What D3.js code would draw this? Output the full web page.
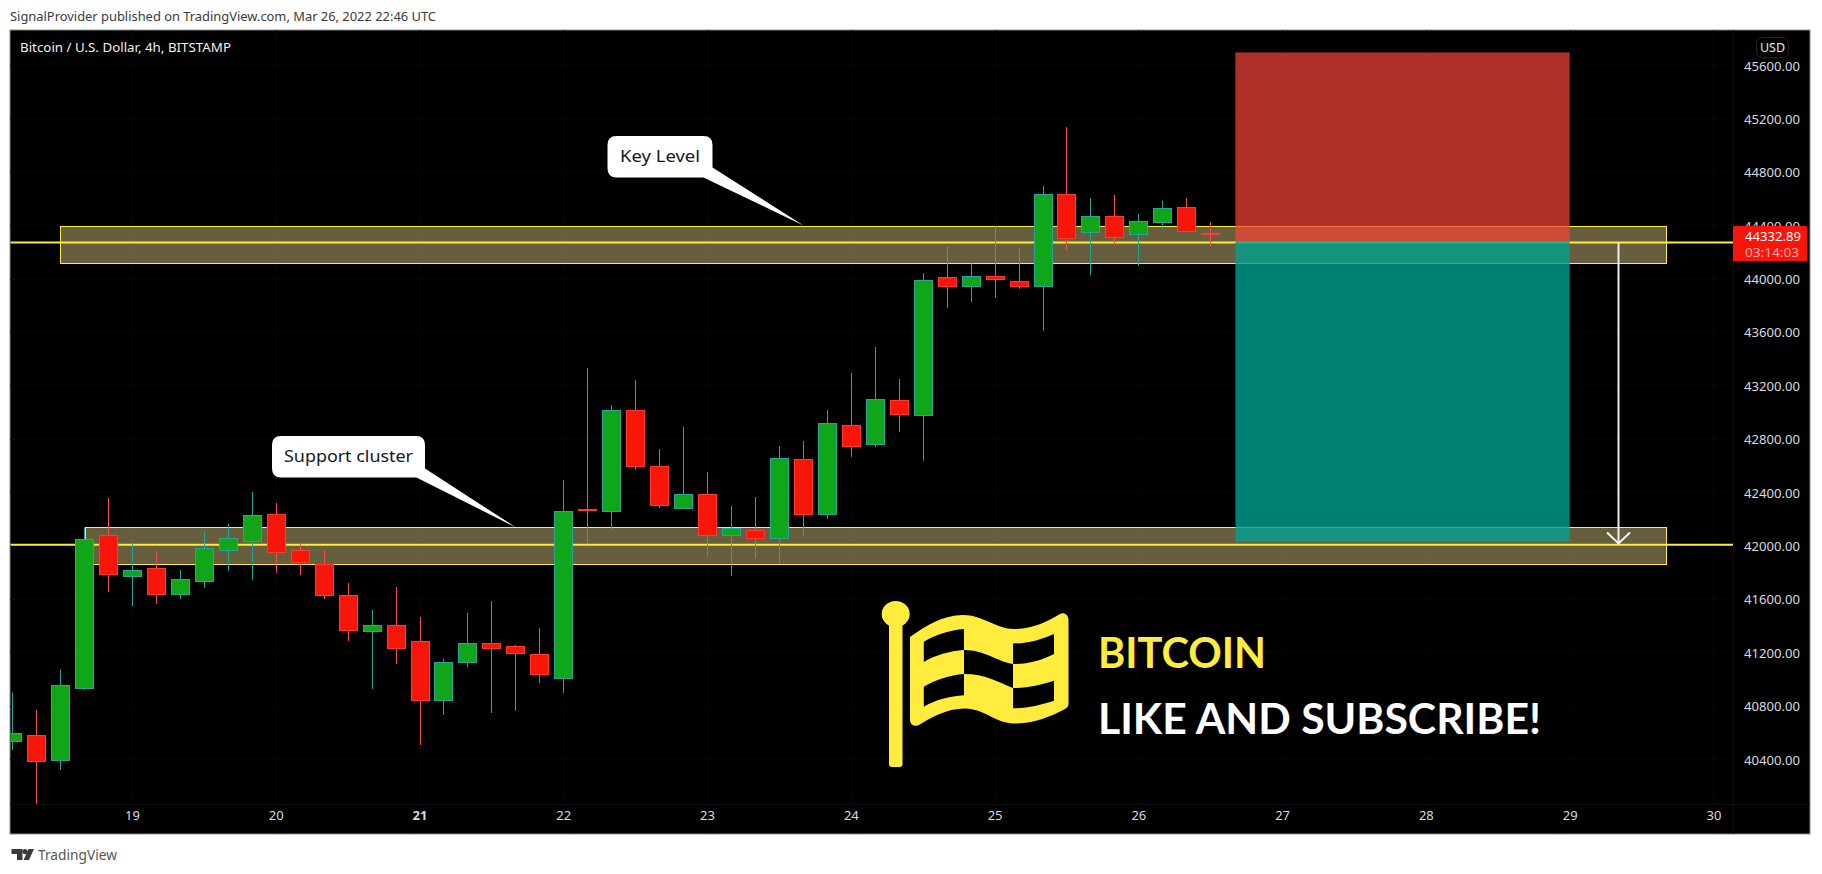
<!DOCTYPE html>
<html>
<head>
<meta charset="utf-8">
<script src="https://cdn.jsdelivr.net/npm/d3@7"></script>
<style>
html, body { margin: 0; padding: 0; background: #fff; overflow: hidden; }
svg { display: block; }
</style>
</head>
<body>
<script>
// 4h candles, first bar is Mar 18 04:00
var firstBarDay = 18 + 1 / 6;
var opens  = [40530,40577,40390,40929,42076,41769,41829,41634,41731,41963,42031,42233,41963,41863,41626,41356,41401,41282,40839,41124,41267,41244,41184,41004,42270,42253,43012,42593,42275,42383,42076,42113,42051,42645,42231,42900,42755,43087,42972,44009,43939,44016,43979,43939,44631,44344,44466,44328,44418,44533,44340];
var highs  = [40899,40767,41072,42136,42356,42026,41958,41816,42108,42161,42400,42318,42016,41966,41719,41516,41689,41464,41149,41494,41584,41254,41381,42490,43330,43052,43240,42723,42888,42550,42296,42363,42745,42783,43015,43292,43487,43247,44041,44236,44114,44394,44229,44693,45135,44603,44626,44483,44581,44603,44423];
var lows   = [40467,40063,40317,40917,41651,41546,41561,41599,41681,41809,41741,41794,41779,41599,41284,40924,41112,40505,40730,41089,40745,40760,40969,40894,42010,42115,42565,42281,42275,41921,41771,41898,41868,42071,42198,42663,42738,42850,42635,43779,43824,43854,43922,43607,44214,44026,44251,44094,44371,44351,44244];
var closes = [40592,40380,40952,42046,41781,41814,41634,41746,41978,42053,42226,41948,41871,41634,41364,41401,41229,40839,41124,41267,41229,41192,41032,42256,42263,43012,42590,42298,42383,42076,42128,42051,42653,42231,42915,42740,43095,42980,43986,43939,44016,43991,43939,44631,44299,44466,44309,44428,44526,44351,44332.89];
var dayTicks = [19,20,21,22,23,24,25,26,27,28,29,30];
var boldDays = [21];
var priceTicks = [45600,45200,44800,44400,44000,43600,43200,42800,42400,42000,41600,41200,40800,40400];

// drawings, price / day coordinates
var zoneTops = [44390, 42136];
var zoneBottoms = [44114, 41859];
var zoneStarts = [18.5, 18.67];
var zoneEnds = [29.67, 29.67];
var levelPrices = [44270, 42005];
var positionStart = 26.675, positionEnd = 29;
var positionStop = 45694, positionEntry = 44279, positionTarget = 42028;
var arrowDay = 29.34, arrowFrom = 44270, arrowTo = 42015;
var lastPrice = 44332.89, lastCountdown = "03:14:03";

var W = 1822, H = 874;
var pane = {left: 10, top: 30, right: 1733, bottom: 804, outerRight: 1810, outerBottom: 834};

var x = d3.scaleLinear().domain([19, 30]).range([132, 1713.4]);
var y = d3.scaleLinear().domain([45600, 40400]).range([65, 759]);

var svg = d3.select("body").append("svg").attr("width", W).attr("height", H);
var fontUi = "'Noto Sans', 'Open Sans', sans-serif";

svg.append("text").attr("x", 10).attr("y", 21)
  .attr("font-family", fontUi).attr("font-size", 12.5).attr("fill", "#3a3a3a")
  .attr("textLength", 426).attr("lengthAdjust", "spacingAndGlyphs")
  .text("SignalProvider published on TradingView.com, Mar 26, 2022 22:46 UTC");

svg.append("rect").attr("x", pane.left).attr("y", pane.top)
  .attr("width", pane.outerRight - pane.left).attr("height", pane.outerBottom - pane.top)
  .attr("fill", "#000").attr("stroke", "#8a8b90").attr("stroke-width", 1);

svg.append("clipPath").attr("id", "paneClip").append("rect")
  .attr("x", pane.left + 0.5).attr("y", pane.top + 0.5)
  .attr("width", pane.right - pane.left).attr("height", pane.bottom - pane.top);

// grid, hardly visible on the black
var grid = svg.append("g").attr("stroke", "#060607").attr("stroke-width", 1);
dayTicks.forEach(function(d) {
  grid.append("line").attr("x1", Math.round(x(d)) + .5).attr("x2", Math.round(x(d)) + .5).attr("y1", pane.top).attr("y2", pane.bottom);
});
priceTicks.forEach(function(p) {
  grid.append("line").attr("x1", pane.left).attr("x2", pane.right).attr("y1", Math.round(y(p)) + .5).attr("y2", Math.round(y(p)) + .5);
});
svg.append("line").attr("x1", pane.right + .5).attr("x2", pane.right + .5).attr("y1", pane.top).attr("y2", pane.outerBottom).attr("stroke", "#0c0c0e");
svg.append("line").attr("x1", pane.left).attr("x2", pane.outerRight).attr("y1", pane.bottom + .5).attr("y2", pane.bottom + .5).attr("stroke", "#0c0c0e");

var chart = svg.append("g").attr("clip-path", "url(#paneClip)");

// zones
zoneTops.forEach(function(t, i) {
  chart.append("rect")
    .attr("x", Math.round(x(zoneStarts[i])) + .5)
    .attr("y", Math.round(y(t)) + .5)
    .attr("width", Math.round(x(zoneEnds[i]) - x(zoneStarts[i])))
    .attr("height", Math.round(y(zoneBottoms[i]) - y(t)))
    .attr("fill", "rgba(255,236,150,0.4)")
    .attr("stroke", "#fdeb4e").attr("stroke-width", 1);
});
levelPrices.forEach(function(p) {
  chart.append("line").attr("x1", pane.left).attr("x2", pane.right)
    .attr("y1", y(p)).attr("y2", y(p))
    .attr("stroke", "#ffeb3b").attr("stroke-width", 2);
});

// candles
var candles = d3.range(highs.length).map(function(i) {
  return {day: firstBarDay + i / 6, o: opens[i], h: highs[i], l: lows[i], c: closes[i]};
});
var candle = chart.append("g").selectAll("g").data(candles).enter().append("g")
  .attr("transform", function(d) { return "translate(" + Math.round(x(d.day)) + ",0)"; });
candle.append("line")
  .attr("x1", .5).attr("x2", .5)
  .attr("y1", function(d) { return y(d.h); })
  .attr("y2", function(d) { return y(d.l); })
  .attr("stroke", function(d) { return d.c >= d.o ? "#26a69a" : "#ef5350"; });
candle.append("rect")
  .attr("x", -8.5).attr("width", 18)
  .attr("y", function(d) { return Math.round(y(Math.max(d.o, d.c))) + .5; })
  .attr("height", function(d) { return Math.max(1, Math.round(Math.abs(y(d.o) - y(d.c)))); })
  .attr("fill", function(d) { return d.c >= d.o ? "#11a61a" : "#f8150a"; })
  .attr("stroke", function(d) { return d.c >= d.o ? "#26a69a" : "#ff3b30"; });

// short position
chart.append("rect")
  .attr("x", x(positionStart)).attr("width", x(positionEnd) - x(positionStart))
  .attr("y", y(positionStop)).attr("height", y(positionEntry) - y(positionStop))
  .attr("fill", "#f94539").attr("fill-opacity", .7);
chart.append("rect")
  .attr("x", x(positionStart)).attr("width", x(positionEnd) - x(positionStart))
  .attr("y", y(positionEntry)).attr("height", y(positionTarget) - y(positionEntry))
  .attr("fill", "#00a090").attr("fill-opacity", .8);

// arrow
var ax = x(arrowDay), ay = y(arrowTo);
chart.append("line").attr("x1", ax).attr("x2", ax).attr("y1", y(arrowFrom)).attr("y2", ay)
  .attr("stroke", "#eeeeee").attr("stroke-width", 2);
chart.append("path").attr("d", "M" + (ax - 11.5) + "," + (ay - 11) + "L" + ax + "," + ay + "L" + (ax + 11.5) + "," + (ay - 11))
  .attr("fill", "none").attr("stroke", "#f6f6f6").attr("stroke-width", 2);

// callouts
function callout(box, tail, label, tx, tl) {
  var r = 9;
  var l = box[0], t = box[1], rr = box[2], b = box[3];
  var p = "M" + (l + r) + "," + t + "L" + (rr - r) + "," + t + "Q" + rr + "," + t + " " + rr + "," + (t + r) +
    "L" + rr + "," + tail[1] + "L" + tail[4] + "," + tail[5] + "L" + tail[0] + "," + b +
    "L" + (l + r) + "," + b + "Q" + l + "," + b + " " + l + "," + (b - r) + "L" + l + "," + (t + r) + "Q" + l + "," + t + " " + (l + r) + "," + t + "Z";
  chart.append("path").attr("d", p).attr("fill", "#fff");
  chart.append("text").attr("x", tx).attr("y", (t + b) / 2 + 5.5)
    .attr("font-family", fontUi).attr("font-size", 16).attr("fill", "#131722")
    .attr("textLength", tl).attr("lengthAdjust", "spacingAndGlyphs").text(label);
}
callout([607.5, 136, 712.5, 177.5], [703.5, 167.5, 0, 0, 803.5, 225.5], "Key Level", 620, 80);
callout([272, 436, 425, 477.5], [416.5, 468.5, 0, 0, 516, 527.5], "Support cluster", 284, 129);

// flag, pasted into the chart as a picture in the original
var flagPath = "M910,637 C925,626 943,615 963,615 C983,615 996,629 1014,629 C1032,629 1047,622 1060,614 C1064,612 1068.5,615 1068.5,620 " +
  "L1068.5,704 C1068.5,706 1067,708 1065,709 C1050,717 1034,723.5 1014,723.5 C996,723.5 984,708.5 965,708.5 C946,708.5 930,718 919,725 C915,727 910,725 910,720 Z " +
  "M923.8,641.7 L923.8,662 C935,655 950,651 964,650 L964,629 C950,630 935,635 923.8,641.7 Z " +
  "M1013,643.5 L1013,664 C1028,664 1040,661 1054,654 L1054,634 C1040,640 1028,643.5 1013,643.5 Z " +
  "M964,650 L964,674 C985,674 998,682 1013,688 L1013,664 C998,662 985,650 964,650 Z " +
  "M923.8,686.7 L923.8,706.7 C935,700 950,696 964,695.3 L964,674 C950,675 935,680 923.8,686.7 Z " +
  "M1013,688 L1013,708.3 C1028,708.3 1040,705 1054,700.7 L1054,680.7 C1040,685 1028,688 1013,688 Z";
svg.append("path").attr("d", flagPath).attr("fill", "#ffec3d").attr("fill-rule", "evenodd");
svg.append("rect").attr("x", 889).attr("y", 622).attr("width", 13.5).attr("height", 145).attr("rx", 3).attr("fill", "#ffec3d");
svg.append("ellipse").attr("cx", 895.7).attr("cy", 614).attr("rx", 14).attr("ry", 13).attr("fill", "#ffec3d");

var fontBig = "Lato, 'Noto Sans', sans-serif";
svg.append("text").attr("x", 1098).attr("y", 667.5)
  .attr("font-family", fontBig).attr("font-weight", 700).attr("font-size", 42).attr("fill", "#ffec3d")
  .attr("textLength", 168).attr("lengthAdjust", "spacingAndGlyphs").text("BITCOIN");
svg.append("text").attr("x", 1098).attr("y", 733.5)
  .attr("font-family", fontBig).attr("font-weight", 700).attr("font-size", 42).attr("fill", "#fff")
  .attr("textLength", 443).attr("lengthAdjust", "spacingAndGlyphs").text("LIKE AND SUBSCRIBE!");

// legend title
svg.append("text").attr("x", 20).attr("y", 51.5)
  .attr("font-family", fontUi).attr("font-size", 12.5).attr("fill", "#f0f0f0")
  .attr("textLength", 211).attr("lengthAdjust", "spacingAndGlyphs").text("Bitcoin / U.S. Dollar, 4h, BITSTAMP");

// axes
var yAxis = d3.axisRight(y).tickValues(priceTicks).tickSize(0).tickPadding(0)
  .tickFormat(function(d) { return d3.format(".2f")(d); });
var yG = svg.append("g").attr("transform", "translate(1744,1)").call(yAxis);
yG.select(".domain").remove();
yG.selectAll("text").attr("font-family", fontUi).attr("font-size", 12.5).attr("fill", "#d8dae0")
  .attr("textLength", 56).attr("lengthAdjust", "spacingAndGlyphs");

var xAxis = d3.axisBottom(x).tickValues(dayTicks).tickSize(0).tickPadding(0)
  .tickFormat(function(d) { return String(d); });
var xG = svg.append("g").attr("transform", "translate(0,811)").call(xAxis);
xG.select(".domain").remove();
xG.selectAll("text").attr("font-family", fontUi).attr("font-size", 13).attr("fill", "#d8dae0")
  .attr("font-weight", function(d) { return boldDays.indexOf(d) >= 0 ? 700 : 400; });

// last price label
svg.append("rect").attr("x", pane.right).attr("y", 226).attr("width", 74).attr("height", 35).attr("rx", 1).attr("fill", "#f8150a");
svg.append("text").attr("x", 1745).attr("y", y(lastPrice) + 6.5)
  .attr("font-family", fontUi).attr("font-size", 13).attr("fill", "#fff")
  .attr("textLength", 56).attr("lengthAdjust", "spacingAndGlyphs").text(d3.format(".2f")(lastPrice));
svg.append("text").attr("x", 1745).attr("y", 256.5)
  .attr("font-family", fontUi).attr("font-size", 13).attr("fill", "#ffb0aa")
  .attr("textLength", 54).attr("lengthAdjust", "spacingAndGlyphs").text(lastCountdown);

// currency badge
svg.append("rect").attr("x", 1756.5).attr("y", 37.5).attr("width", 32).attr("height", 20).attr("rx", 6)
  .attr("fill", "#000").attr("stroke", "#23242c");
svg.append("text").attr("x", 1772.5).attr("y", 52).attr("text-anchor", "middle")
  .attr("font-family", fontUi).attr("font-size", 12.5).attr("fill", "#e8e8e8").text("USD");

// logo
var logo = svg.append("g").attr("fill", "#3a3a3a");
logo.append("path").attr("d", "M11.5,849 L22.5,849 L22.5,860 L17,860 L17,854 L11.5,854 Z");
logo.append("circle").attr("cx", 25).attr("cy", 851.6).attr("r", 2.6);
logo.append("path").attr("d", "M28.5,849 L34,849 L29,860 L23.5,860 Z");
svg.append("text").attr("x", 38).attr("y", 860)
  .attr("font-family", fontUi).attr("font-size", 14).attr("fill", "#555")
  .attr("textLength", 79).attr("lengthAdjust", "spacingAndGlyphs").text("TradingView");
</script>
</body>
</html>
